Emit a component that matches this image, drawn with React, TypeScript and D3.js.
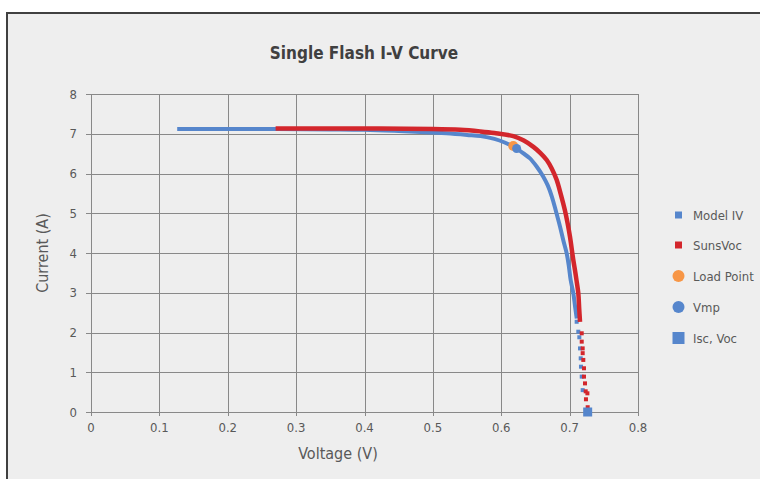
import React from "react";
import * as d3 from "d3";

const W = 760;
const H = 479;

const xTicks = [0, 0.1, 0.2, 0.3, 0.4, 0.5, 0.6, 0.7, 0.8];
const yTicks = [0, 1, 2, 3, 4, 5, 6, 7, 8];

// Model IV (dense part of the curve)
const modelIV: [number, number][] = [
  [0.129, 7.12], [0.25, 7.12], [0.35, 7.11], [0.4, 7.1], [0.45, 7.07], [0.49, 7.04],
  [0.52, 7.01], [0.55, 6.97], [0.57, 6.94], [0.59, 6.87], [0.605, 6.78], [0.6225, 6.63],
  [0.632, 6.51], [0.642, 6.38], [0.652, 6.17], [0.6615, 5.92], [0.668, 5.7], [0.674, 5.42],
  [0.68, 5.05], [0.686, 4.66], [0.691, 4.3], [0.6957, 3.99], [0.699, 3.65], [0.7015, 3.32],
  [0.7054, 2.99], [0.708, 2.65], [0.71, 2.4],
];
// Model IV sparse measured points near Voc
const modelIVTail: [number, number][] = [
  [0.7103, 2.27], [0.7127, 2.02], [0.7142, 1.88], [0.7152, 1.6], [0.7162, 1.35],
  [0.7166, 1.14], [0.7177, 0.89], [0.7191, 0.55],
];
// SunsVoc (dense part)
const sunsVoc: [number, number][] = [
  [0.27, 7.13], [0.4, 7.13], [0.5, 7.12], [0.54, 7.1], [0.569, 7.06], [0.59, 7.02],
  [0.6177, 6.94], [0.633, 6.83], [0.647, 6.67], [0.657, 6.52], [0.6665, 6.34], [0.674, 6.12],
  [0.681, 5.84], [0.687, 5.48], [0.693, 5.08], [0.697, 4.75], [0.7005, 4.41], [0.7054, 3.82],
  [0.708, 3.55], [0.71, 3.32], [0.7127, 2.99], [0.714, 2.6], [0.7152, 2.27],
];
const sunsVocTail: [number, number][] = [
  [0.7177, 1.98], [0.7177, 1.77], [0.7191, 1.6], [0.7191, 1.48], [0.72, 1.31],
  [0.721, 1.1], [0.721, 0.89], [0.7225, 0.72], [0.7235, 0.52], [0.726, 0.47],
  [0.7239, 0.32], [0.7264, 0.12],
];
const loadPoint: [number, number][] = [[0.6176, 6.69]];
const vmp: [number, number][] = [[0.6225, 6.63]];
const iscVoc: [number, number][] = [[0.7264, 0]];

const legendItems = ["Model IV", "SunsVoc", "Load Point", "Vmp", "Isc, Voc"];

const BLUE = "#5686cc";
const RED = "#d3262c";
const ORANGE = "#f79646";
const FONT = "'Liberation Sans Narrow', 'DejaVu Sans Condensed', 'Roboto', sans-serif";
const TXT = "#595959";

export default function App() {
  const x = d3.scaleLinear().domain([0, 0.8]).range([91, 638]);
  const y = d3.scaleLinear().domain([0, 8]).range([412, 94]);
  const line = d3
    .line<[number, number]>()
    .x((d) => x(d[0]))
    .y((d) => y(d[1]))
    .curve(d3.curveMonotoneY);
  const lineX = d3
    .line<[number, number]>()
    .x((d) => x(d[0]))
    .y((d) => y(d[1]))
    .curve(d3.curveCatmullRom);

  const legendY = [215, 245, 276, 307, 338];

  return (
    <svg
      width={W}
      height={H}
      style={{ position: "absolute", left: 0, top: 0 }}
      fontFamily={FONT}
    >
      <rect x={0} y={0} width={W} height={H} fill="#ffffff" />
      <rect x={7} y={13} width={800} height={500} fill="#eeeeee" stroke="#404040" strokeWidth={2} />
      <text x={364} y={59} textAnchor="middle" fontSize={17} fontWeight="bold" fill="#404040">
        Single Flash I-V Curve
      </text>

      {/* grid */}
      {yTicks.map((t) => (
        <g key={"y" + t}>
          <line x1={86} x2={638.5} y1={Math.round(y(t)) + 0.5} y2={Math.round(y(t)) + 0.5} stroke="#888" strokeWidth={1} />
          <text x={77} y={y(t) + 4.5} textAnchor="end" fontSize={13} fill={TXT}>
            {t}
          </text>
        </g>
      ))}
      {xTicks.map((t) => (
        <g key={"x" + t}>
          <line x1={Math.round(x(t)) + 0.5} x2={Math.round(x(t)) + 0.5} y1={94} y2={416} stroke="#888" strokeWidth={1} />
          <text x={x(t)} y={432} textAnchor="middle" fontSize={13} fill={TXT}>
            {t}
          </text>
        </g>
      ))}

      <text x={338} y={459} textAnchor="middle" fontSize={16} fill={TXT}>
        Voltage (V)
      </text>
      <text
        transform={`translate(48,253) rotate(-90)`}
        textAnchor="middle"
        fontSize={16}
        fill={TXT}
      >
        Current (A)
      </text>

      {/* Model IV */}
      <path d={lineX(modelIV) || ""} fill="none" stroke={BLUE} strokeWidth={4} strokeLinecap="square" />
      {modelIVTail.map((d, i) => (
        <rect key={"mt" + i} x={x(d[0]) - 2} y={y(d[1]) - 2} width={4} height={4} fill={BLUE} />
      ))}
      {/* SunsVoc */}
      <path d={lineX(sunsVoc) || ""} fill="none" stroke={RED} strokeWidth={4.5} strokeLinecap="butt" />
      {sunsVocTail.map((d, i) => (
        <rect key={"st" + i} x={x(d[0]) - 2} y={y(d[1]) - 2} width={4} height={4} fill={RED} />
      ))}
      {loadPoint.map((d, i) => (
        <circle key={"lp" + i} cx={x(d[0])} cy={y(d[1])} r={5} fill={ORANGE} />
      ))}
      {vmp.map((d, i) => (
        <circle key={"vm" + i} cx={x(d[0])} cy={y(d[1])} r={4.5} fill={BLUE} />
      ))}
      {iscVoc.map((d, i) => (
        <rect key={"iv" + i} x={x(d[0]) - 4.5} y={y(d[1]) - 4.5} width={9} height={9} fill={BLUE} />
      ))}

      {/* legend */}
      {legendItems.map((name, i) => {
        const cy = legendY[i];
        let marker;
        if (i === 0) marker = <rect x={675} y={cy - 3.5} width={7} height={7} fill={BLUE} />;
        else if (i === 1) marker = <rect x={675} y={cy - 3.5} width={7} height={7} fill={RED} />;
        else if (i === 2) marker = <circle cx={678.5} cy={cy} r={6} fill={ORANGE} />;
        else if (i === 3) marker = <circle cx={678.5} cy={cy} r={6} fill={BLUE} />;
        else marker = <rect x={672.5} y={cy - 6} width={12} height={12} fill={BLUE} />;
        return (
          <g key={name}>
            {marker}
            <text x={693} y={cy + 4.5} fontSize={13} fill={TXT}>
              {name}
            </text>
          </g>
        );
      })}
    </svg>
  );
}
